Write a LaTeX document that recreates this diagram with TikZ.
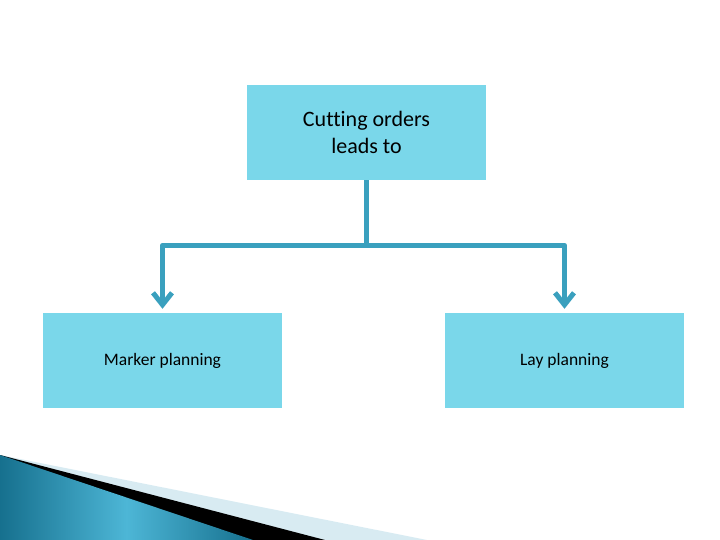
\documentclass[tikz,border=0pt]{standalone}
\usepackage{fontspec}
\setmainfont[Ligatures=NoCommon]{Carlito}
\usetikzlibrary{arrows.meta}
\definecolor{boxblue}{HTML}{7AD7EA}
\definecolor{linkblue}{HTML}{3AA0BE}
\definecolor{darkteal}{HTML}{16708E}
\definecolor{midteal}{HTML}{4DB6D6}
\definecolor{paleblue}{HTML}{D8EBF2}
\begin{document}
\begin{tikzpicture}
            [x=1pt, y=-1pt,
             block/.style = {rectangle, fill=boxblue, minimum width=239pt, minimum height=95pt,
                             inner sep=0pt, align=center, font=\fontsize{17.5}{27}\selectfont},
             link/.style = {draw=linkblue, line width=5pt, line join=round,
                            -{Straight Barb[length=12pt, width=19pt]}, shorten >=4pt}]
            \useasboundingbox (0,0) rectangle (720,540);
            % corner decoration
            \fill[paleblue] (0,455) -- (427,540) -- (0,540) -- cycle;
            \fill[black] (0,455) -- (325,540) -- (0,540) -- cycle;
            \shade[left color=darkteal, right color=darkteal, middle color=midteal, shading angle=90]
                (0,455) -- (253,540) -- (0,540) -- cycle;
            % boxes
            \node[block, font=\fontsize{22}{27}\selectfont] (cut) at (366.5,132.5) {Cutting orders\\leads to};
            \node[block] (marker) at (162.5,360.5) {Marker planning};
            \node[block] (lay) at (564.5,360.5) {Lay planning};
            \coordinate (split) at ([yshift=-65pt]cut.south);
            \draw[link] (cut.south) -- (split) -| (marker.north);
            \draw[link] (cut.south) -- (split) -| (lay.north);
        \end{tikzpicture}
\end{document}
